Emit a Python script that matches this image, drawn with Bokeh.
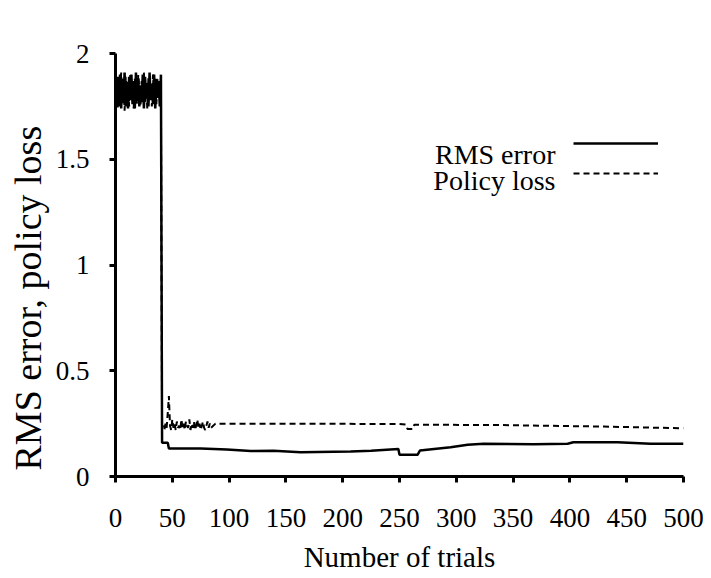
from bokeh.plotting import figure
from bokeh.models import (Range1d, FixedTicker, Label, Legend, LegendItem, Title)
from bokeh.embed import file_html
from bokeh.resources import INLINE

# ---------------- data ----------------
rms_trials = list(range(1, 41)) + [41, 46, 47, 75, 98, 119, 139, 163, 207, 225, 242,
                                   249, 250, 266, 268, 295, 310, 324, 368, 398, 403,
                                   442, 471, 500]
rms_values = [1.76, 1.89, 1.75, 1.90, 1.74, 1.88, 1.77, 1.91, 1.75, 1.86,
              1.74, 1.89, 1.78, 1.90, 1.76, 1.87, 1.74, 1.91, 1.79, 1.88,
              1.75, 1.85, 1.77, 1.90, 1.74, 1.89, 1.80, 1.86, 1.75, 1.91,
              1.78, 1.84, 1.76, 1.90, 1.74, 1.88, 1.79, 1.87, 1.75, 1.90,
              0.16, 0.16, 0.132, 0.132, 0.128, 0.12, 0.122, 0.115, 0.118, 0.122, 0.128,
              0.13, 0.103, 0.103, 0.123, 0.138, 0.15, 0.155, 0.152, 0.155, 0.162,
              0.162, 0.155, 0.155]

loss_trials = list(range(1, 85)) + [88, 150, 250, 256, 257, 262, 263, 340, 430, 500]
loss_values = [1.82, 1.74, 1.88, 1.78, 1.91, 1.76, 1.85, 1.73, 1.89, 1.80,
               1.87, 1.75, 1.90, 1.79, 1.84, 1.74, 1.88, 1.81, 1.76, 1.90,
               1.83, 1.75, 1.87, 1.78, 1.91, 1.77, 1.84, 1.74, 1.89, 1.80,
               1.86, 1.75, 1.90, 1.79, 1.83, 1.76, 1.88, 1.81, 1.85, 1.78,
               0.23, 0.24, 0.22, 0.25, 0.23, 0.30, 0.38, 0.24, 0.22, 0.27,
               0.23, 0.25, 0.22, 0.26, 0.23, 0.24, 0.22, 0.27, 0.23, 0.25,
               0.22, 0.26, 0.24, 0.23, 0.27, 0.22, 0.25, 0.23, 0.26, 0.22,
               0.24, 0.27, 0.23, 0.25, 0.22, 0.24, 0.26, 0.23, 0.22, 0.24,
               0.26, 0.23, 0.25, 0.23,
               0.25, 0.25, 0.248, 0.245, 0.225, 0.225, 0.245, 0.243, 0.236, 0.228]

x_ticks = [0, 50, 100, 150, 200, 250, 300, 350, 400, 450, 500]
y_ticks = [0, 0.5, 1, 1.5, 2]
y_tick_labels = ["0", "0.5", "1", "1.5", "2"]
series_names = ["RMS error", "Policy loss"]
x_title = "Number of trials"
y_title = "RMS error, policy loss"

FONT = "Liberation Serif"

p = figure(width=711, height=578, output_backend="svg", toolbar_location=None,
           x_range=Range1d(0, 500), y_range=Range1d(0, 2),
           min_border_left=115, min_border_right=28,
           min_border_top=53, min_border_bottom=102)
p.background_fill_color = "white"
p.border_fill_color = "white"
p.outline_line_color = None
p.xgrid.visible = False
p.ygrid.visible = False

r_rms = p.line(rms_trials, rms_values, line_color="black", line_width=2.5)
r_loss = p.line(loss_trials, loss_values, line_color="black", line_width=2,
                line_dash="6 4")

for ax in (p.xaxis[0], p.yaxis[0]):
    ax.axis_line_width = 3
    ax.axis_line_color = "black"
    ax.major_tick_line_width = 3
    ax.major_tick_line_color = "black"
    ax.major_tick_out = 6
    ax.major_tick_in = 0
    ax.minor_tick_line_color = None
    ax.major_label_text_font = FONT
    ax.major_label_text_color = "black"

p.xaxis[0].ticker = FixedTicker(ticks=x_ticks)
p.xaxis[0].major_label_text_font_size = "27px"
p.xaxis[0].major_label_standoff = 26
p.xaxis[0].axis_label = x_title
p.xaxis[0].axis_label_text_font = FONT
p.xaxis[0].axis_label_text_font_size = "29px"
p.xaxis[0].axis_label_text_font_style = "normal"
p.xaxis[0].axis_label_text_color = "black"
p.xaxis[0].axis_label_standoff = 11

p.yaxis[0].ticker = FixedTicker(ticks=y_ticks)
p.yaxis[0].major_label_overrides = {t: s for t, s in zip(y_ticks, y_tick_labels)}
p.yaxis[0].major_label_text_font_size = "27px"
p.yaxis[0].major_label_standoff = 20

# y-axis title, placed slightly below centre as in the reference
p.add_layout(Title(text=y_title, align="left", offset=6, standoff=8,
                   text_font=FONT, text_font_size="38px",
                   text_font_style="normal", text_color="black"), "left")

# legend: text on the left, line samples on the right
legend = Legend(items=[LegendItem(label=" ", renderers=[r_rms]),
                       LegendItem(label="  ", renderers=[r_loss])],
                location=(458, 288), glyph_width=85, glyph_height=30,
                label_height=30, label_width=1, label_standoff=0,
                spacing=0, padding=0, margin=0,
                border_line_color=None, background_fill_alpha=0,
                label_text_font_size="10px")
p.add_layout(legend)
p.add_layout(Label(x=440, y=322, x_units="screen", y_units="screen",
                   text=series_names[0], text_align="right",
                   text_baseline="alphabetic", text_font=FONT,
                   text_font_size="28px", text_color="black"))
p.add_layout(Label(x=440, y=296, x_units="screen", y_units="screen",
                   text=series_names[1], text_align="right",
                   text_baseline="alphabetic", text_font=FONT,
                   text_font_size="28px", text_color="black"))

open("out.html", "w").write(file_html(p, INLINE))
